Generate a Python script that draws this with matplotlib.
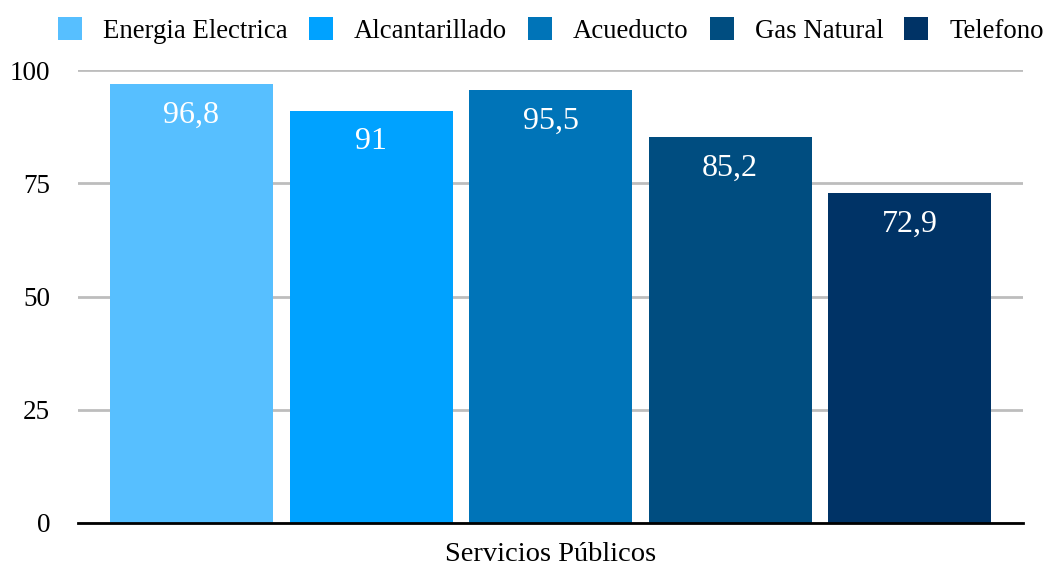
import matplotlib
matplotlib.use("Agg")
import matplotlib.pyplot as plt
from matplotlib.patches import Patch

plt.rcParams['font.family'] = ['Liberation Serif', 'DejaVu Serif']

series = ["Energia Electrica", "Alcantarillado", "Acueducto", "Gas Natural", "Telefono"]
values = [96.8, 91, 95.5, 85.2, 72.9]
labels = ["96,8", "91", "95,5", "85,2", "72,9"]
colors = ["#57BFFF", "#00A2FF", "#0074B8", "#004D80", "#003366"]
category = "Servicios Públicos"
yticks = [0, 25, 50, 75, 100]

W, H = 1046, 567
fig = plt.figure(figsize=(W / 100, H / 100), dpi=100)
ax = fig.add_axes([78 / W, (H - 523) / H, (1023 - 78) / W, (523 - 70) / H])

slot = 179.5 / 945
bw = 163 / 945
n = len(series)
for i, (s, v, lab, c) in enumerate(zip(series, values, labels, colors)):
    x = (i - (n - 1) / 2) * slot
    ax.bar(x, v, width=bw, color=c, zorder=2, label=s)
    ax.annotate(lab, (x, v), xytext=(0, -12), textcoords="offset points",
                ha="center", va="top", color="white", fontsize=23, zorder=3)

ax.set_xlim(-0.5, 0.5)
ax.set_ylim(0, 100)
ax.set_yticks(yticks)
ax.set_yticklabels([str(t) for t in yticks])
ax.tick_params(axis="y", length=0, pad=20, labelsize=19.5)
ax.set_xticks([0])
ax.set_xticklabels([category])
ax.tick_params(axis="x", length=0, pad=14, labelsize=20.5)
for sp in ["top", "right", "left"]:
    ax.spines[sp].set_visible(False)
ax.spines["bottom"].set_linewidth(2)
ax.spines["bottom"].set_color("black")
ax.spines["bottom"].set_zorder(4)
ax.yaxis.grid(True, color="#BDBDBD", linewidth=2, zorder=0)
ax.set_axisbelow(True)

handles = [Patch(facecolor=c, edgecolor="none") for c in colors]
fig.legend(handles, series, loc="upper left", bbox_to_anchor=(53 / W, 1 - 12 / H),
           ncol=n, frameon=False, fontsize=19.3, handlelength=0.9, handleheight=0.9,
           handletextpad=0.78, columnspacing=0.78, borderaxespad=0, borderpad=0.2)

fig.savefig("out.png", dpi=100)
